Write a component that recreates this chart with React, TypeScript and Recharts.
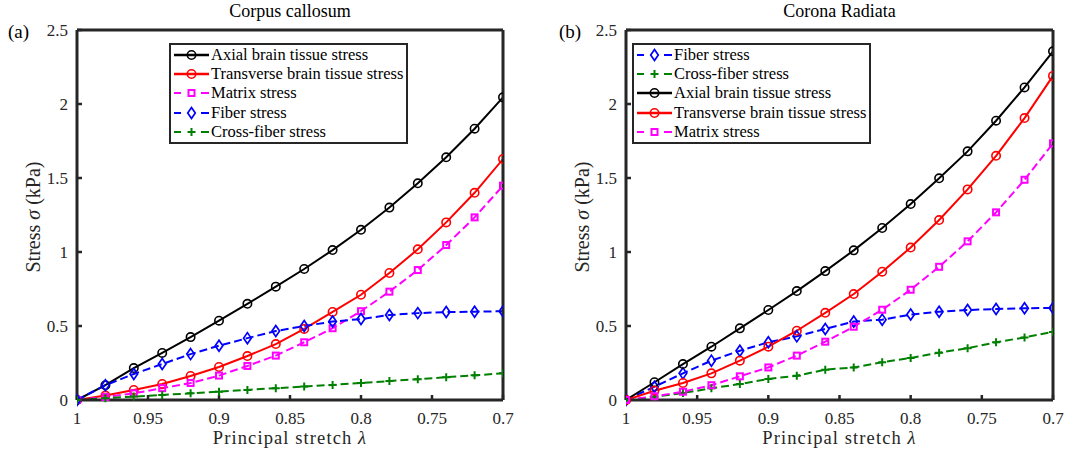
import { LineChart, Line, XAxis, YAxis } from "recharts"

// principal stretch, loading from 1 down to 0.7
const stretch = [1, 0.98, 0.96, 0.94, 0.92, 0.9, 0.88, 0.86, 0.84, 0.82, 0.8, 0.78, 0.76, 0.74, 0.72, 0.7]
const xTicks = [1, 0.95, 0.9, 0.85, 0.8, 0.75, 0.7]
const yTicks = [0, 0.5, 1, 1.5, 2, 2.5]

// (a) Corpus callosum, kPa
const axialCC = [0, 0.1, 0.216, 0.318, 0.425, 0.536, 0.65, 0.766, 0.885, 1.013, 1.15, 1.3, 1.464, 1.64, 1.833, 2.045]
const transCC = [0, 0.03, 0.068, 0.108, 0.162, 0.223, 0.297, 0.378, 0.48, 0.595, 0.711, 0.858, 1.018, 1.2, 1.4, 1.628]
const matrixCC = [0, 0.02, 0.045, 0.08, 0.115, 0.165, 0.23, 0.3, 0.39, 0.485, 0.6, 0.732, 0.878, 1.047, 1.234, 1.448]
const fiberCC = [0, 0.1, 0.176, 0.243, 0.31, 0.367, 0.418, 0.466, 0.5, 0.53, 0.547, 0.574, 0.587, 0.594, 0.597, 0.6]
const crossCC = [0, 0.012, 0.023, 0.034, 0.045, 0.056, 0.068, 0.08, 0.091, 0.102, 0.115, 0.128, 0.141, 0.154, 0.167, 0.18]

// (b) Corona radiata, kPa
const fiberCR = [0, 0.09, 0.18, 0.266, 0.333, 0.39, 0.43, 0.48, 0.53, 0.543, 0.577, 0.597, 0.608, 0.615, 0.62, 0.622]
const crossCR = [0, 0.022, 0.047, 0.079, 0.108, 0.142, 0.164, 0.205, 0.22, 0.255, 0.284, 0.32, 0.35, 0.39, 0.423, 0.46]
const axialCR = [0, 0.12, 0.243, 0.36, 0.484, 0.608, 0.736, 0.871, 1.011, 1.162, 1.324, 1.498, 1.68, 1.887, 2.112, 2.356]
const transCR = [0, 0.063, 0.115, 0.18, 0.266, 0.36, 0.468, 0.589, 0.716, 0.867, 1.03, 1.216, 1.423, 1.65, 1.905, 2.19]
const matrixCR = [0, 0.025, 0.056, 0.1, 0.16, 0.22, 0.3, 0.394, 0.495, 0.61, 0.745, 0.9, 1.072, 1.268, 1.488, 1.734]

type MarkerKind = "circle" | "square" | "diamond" | "plus"

interface Series {
  key: string
  name: string
  color: string
  dashed: boolean
  marker: MarkerKind
  values: number[]
}

const FONT = "'Liberation Serif', 'Times New Roman', serif"
const AXIS = "#262626"

const Marker = ({ kind, cx, cy, color }: { kind: MarkerKind; cx: number; cy: number; color: string }) => {
  switch (kind) {
    case "circle":
      return <circle cx={cx} cy={cy} r={4.2} fill="none" stroke={color} strokeWidth={1.6} />
    case "square":
      return <rect x={cx - 3} y={cy - 3} width={6} height={6} fill="none" stroke={color} strokeWidth={2} />
    case "diamond":
      return (
        <path
          d={`M${cx},${cy - 5.5}L${cx + 3.8},${cy}L${cx},${cy + 5.5}L${cx - 3.8},${cy}Z`}
          fill="none"
          stroke={color}
          strokeWidth={1.7}
        />
      )
    default:
      return <path d={`M${cx - 4},${cy}H${cx + 4}M${cx},${cy - 4}V${cy + 4}`} stroke={color} strokeWidth={2} />
  }
}

const axial = (values: number[]): Series => ({
  key: "axial", name: "Axial brain tissue stress", color: "#000000", dashed: false, marker: "circle", values,
})
const trans = (values: number[]): Series => ({
  key: "trans", name: "Transverse brain tissue stress", color: "#ff0000", dashed: false, marker: "circle", values,
})
const matrix = (values: number[]): Series => ({
  key: "matrix", name: "Matrix stress", color: "#ff00ff", dashed: true, marker: "square", values,
})
const fiber = (values: number[]): Series => ({
  key: "fiber", name: "Fiber stress", color: "#0000ff", dashed: true, marker: "diamond", values,
})
const cross = (values: number[]): Series => ({
  key: "cross", name: "Cross-fiber stress", color: "#008000", dashed: true, marker: "plus", values,
})

const seriesCC = [axial(axialCC), trans(transCC), matrix(matrixCC), fiber(fiberCC), cross(crossCC)]
const seriesCR = [fiber(fiberCR), cross(crossCR), axial(axialCR), trans(transCR), matrix(matrixCR)]

const LegendBox = ({ series }: { series: Series[] }) => (
  <div
    style={{
      border: `2px solid ${AXIS}`,
      background: "#fff",
      padding: "0px 3px 1px 2px",
      fontSize: 16.5,
      color: "#000",
    }}
  >
    {series.map(s => (
      <div key={s.key} style={{ display: "flex", alignItems: "center", height: 19.3, whiteSpace: "nowrap" }}>
        <svg width={38} height={18} style={{ flex: "none" }}>
          {s.dashed ? (
            <path d="M1,9H8M28,9H36" stroke={s.color} strokeWidth={2} />
          ) : (
            <path d="M1,9H36" stroke={s.color} strokeWidth={2.5} />
          )}
          <Marker kind={s.marker} cx={18.5} cy={9} color={s.color} />
        </svg>
        <span>{s.name}</span>
      </div>
    ))}
  </div>
)

interface PanelProps {
  left: number
  width: number
  marginLeft: number
  marginRight: number
  title: string
  tag: string
  tagX: number
  legendX: number
  series: Series[]
}

const Panel = ({ left, width, marginLeft, marginRight, title, tag, tagX, legendX, series }: PanelProps) => {
  const data = stretch.map((x, i) => {
    const row: Record<string, number> = { x }
    series.forEach(s => {
      row[s.key] = s.values[i]
    })
    return row
  })
  const plotLeft = marginLeft + 60
  const plotRight = width - marginRight - 1
  const tickStyle = { fontSize: 17, fill: AXIS }

  return (
    <div style={{ position: "absolute", left, top: 0, width, height: 452, fontFamily: FONT }}>
      <div
        style={{
          position: "absolute",
          left: plotLeft,
          width: plotRight - plotLeft,
          top: 1,
          textAlign: "center",
          fontSize: 18,
          color: "#000",
        }}
      >
        {title}
      </div>
      <div style={{ position: "absolute", left: tagX, top: 21, fontSize: 19, color: "#000" }}>{tag}</div>
      <LineChart
        width={width}
        height={452}
        data={data}
        margin={{ top: 29, right: marginRight, bottom: 0, left: marginLeft }}
        style={{ fontFamily: FONT }}
      >
        <XAxis
          dataKey="x"
          type="number"
          domain={[0.7, 1]}
          reversed
          ticks={xTicks}
          allowDataOverflow
          height={52}
          tickSize={-5}
          tickMargin={17}
          tick={tickStyle}
          tickLine={{ stroke: AXIS, strokeWidth: 2.5 }}
          axisLine={{ stroke: AXIS, strokeWidth: 3 }}
          label={{
            content: (props: any) => {
              const vb = props.viewBox
              return (
                <text
                  x={vb.x + vb.width / 2}
                  y={vb.y + 44}
                  textAnchor="middle"
                  fontSize={18.5}
                  letterSpacing={1.1}
                  fill={AXIS}
                >
                  Principal stretch <tspan fontStyle="italic">λ</tspan>
                </text>
              )
            },
          }}
        />
        <XAxis
          xAxisId="top"
          orientation="top"
          dataKey="x"
          type="number"
          domain={[0.7, 1]}
          reversed
          ticks={xTicks}
          height={1}
          tickSize={-5}
          tick={false}
          tickLine={{ stroke: AXIS, strokeWidth: 2.5 }}
          axisLine={{ stroke: AXIS, strokeWidth: 3 }}
        />
        <YAxis
          type="number"
          domain={[0, 2.5]}
          ticks={yTicks}
          width={60}
          tickSize={-5}
          tickMargin={14}
          tick={tickStyle}
          tickLine={{ stroke: AXIS, strokeWidth: 2.5 }}
          axisLine={{ stroke: AXIS, strokeWidth: 3 }}
          label={{
            content: (props: any) => {
              const vb = props.viewBox
              const cx = vb.x + 16
              const cy = vb.y + vb.height / 2 + 2
              return (
                <text
                  x={cx}
                  y={cy}
                  transform={`rotate(-90, ${cx}, ${cy})`}
                  textAnchor="middle"
                  dominantBaseline="central"
                  fontSize={20}
                  fill={AXIS}
                >
                  Stress <tspan fontStyle="italic">σ</tspan>
                  {"  (kPa)"}
                </text>
              )
            },
          }}
        />
        <YAxis
          yAxisId="right"
          orientation="right"
          type="number"
          domain={[0, 2.5]}
          ticks={yTicks}
          width={1}
          tickSize={-5}
          tick={false}
          tickLine={{ stroke: AXIS, strokeWidth: 2.5 }}
          axisLine={{ stroke: AXIS, strokeWidth: 3 }}
        />
        {series.map(s => (
          <Line
            key={s.key}
            dataKey={s.key}
            name={s.name}
            type="linear"
            stroke={s.color}
            strokeWidth={2}
            strokeDasharray={s.dashed ? "8 4" : undefined}
            isAnimationActive={false}
            dot={(p: any) => <Marker key={`${s.key}-${p.index}`} kind={s.marker} cx={p.cx} cy={p.cy} color={s.color} />}
            activeDot={false}
          />
        ))}
      </LineChart>
      <div style={{ position: "absolute", left: legendX, top: 43 }}>
        <LegendBox series={series} />
      </div>
    </div>
  )
}

export default function App() {
  return (
    <div style={{ position: "absolute", left: 0, top: 0, width: 1067, height: 452, background: "#fff", overflow: "hidden" }}>
      <Panel
        left={0}
        width={540}
        marginLeft={17}
        marginRight={36}
        title="Corpus callosum"
        tag="(a)"
        tagX={8}
        legendX={169}
        series={seriesCC}
      />
      <Panel
        left={540}
        width={527}
        marginLeft={26}
        marginRight={13}
        title="Corona Radiata"
        tag="(b)"
        tagX={19}
        legendX={92}
        series={seriesCR}
      />
    </div>
  )
}
